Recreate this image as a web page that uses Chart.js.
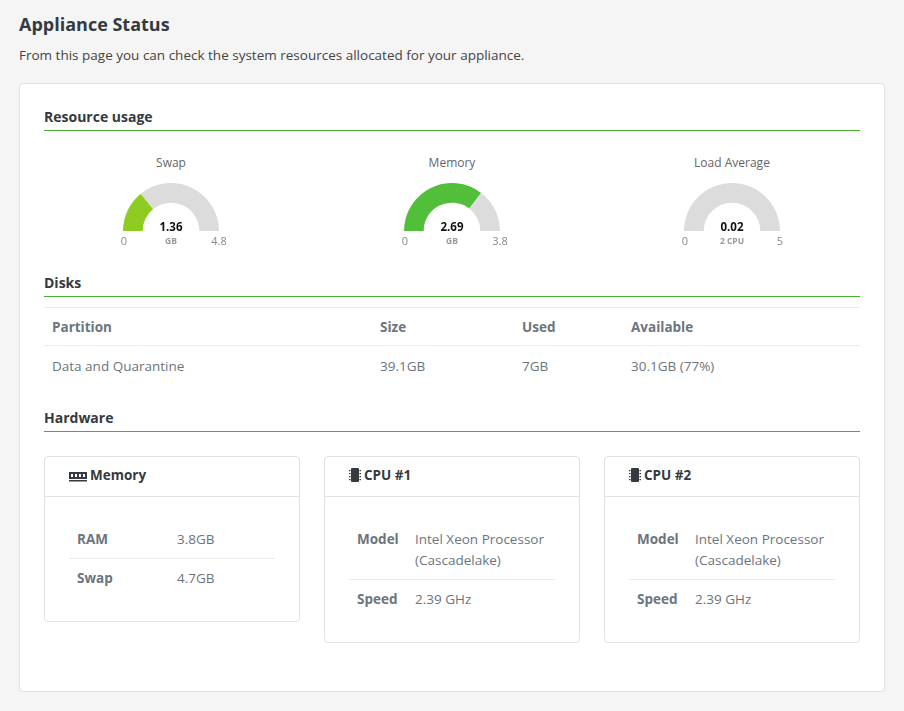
<!DOCTYPE html>
<html>
<head>
<meta charset="utf-8">
<script src="https://cdn.jsdelivr.net/npm/chart.js@4/dist/chart.umd.min.js"></script>
<style>
  html, body { margin: 0; padding: 0; }
  body { background: #f5f5f5; font-family: "Open Sans", sans-serif; font-size: 14px; color: #333; width: 904px; height: 711px; overflow: hidden; position: relative; }
  h1 { position: absolute; left: 19px; top: 12px; margin: 0; font-size: 18px; font-weight: 700; color: #343a40; }
  .lead { position: absolute; left: 19px; top: 46px; margin: 0; font-size: 13.5px; color: #444; }
  .card { position: absolute; left: 19px; top: 83px; width: 864px; height: 607px; background: #fff; border: 1px solid #dee2e6; border-radius: 4px; }
  .sect { position: absolute; left: 24px; width: 816px; border-bottom: 1.5px solid #49b02d; font-weight: 700; font-size: 14px; color: #343a40; height: 24px; line-height: 22px; }
  .gauge { position: absolute; width: 140px; height: 100px; }
  .gauge .t { position: absolute; top: 0; width: 140px; text-align: center; font-size: 12px; color: #666; }
  .gauge .cv { position: absolute; left: 22px; top: 29px; width: 96px; height: 48px; }
  .gauge .v { position: absolute; top: 65px; width: 140px; text-align: center; font-size: 11.5px; font-weight: 700; color: #111; }
  .gauge .u { position: absolute; top: 81px; width: 140px; text-align: center; font-size: 8.5px; font-weight: 700; color: #999; }
  .gauge .mn, .gauge .mx { position: absolute; top: 79px; width: 40px; text-align: center; font-size: 11px; color: #888; }
  table { border-collapse: collapse; }
  .disks { position: absolute; left: 24px; top: 223px; width: 816px; border-top: 1px solid #e9ecef; }
  .disks th, .disks td { text-align: left; padding: 0 8px; height: 39px; color: #6c757d; font-size: 13.5px; }
  .disks th { border-bottom: 1.5px solid #e9ecef; font-weight: 700; height: 37px; }
  .hw { position: absolute; top: 372px; width: 254px; background: #fff; border: 1px solid #dee2e6; border-radius: 4px; }
  .hw .hd { height: 39px; border-bottom: 1px solid #dee2e6; padding-left: 24px; font-weight: 700; font-size: 13.5px; line-height: 37px; color: #343a40; }
  .hw .hd svg { vertical-align: -2px; margin-right: 3px; }
  .hw table { margin: 24px 24px 24px 24px; width: 206px; }
  .hw td { padding: 0 8px; color: #6c757d; font-size: 13.5px; line-height: 21px; vertical-align: top; white-space: nowrap; }
  .hw td.k { font-weight: 700; }
  .hw tr.a td { padding-top: 8px; padding-bottom: 8px; border-bottom: 1px solid #e9ecef; }
  .hw tr.b td { padding-top: 8.5px; padding-bottom: 8.5px; }
</style>
</head>
<body>
<h1>Appliance Status</h1>
<p class="lead">From this page you can check the system resources allocated for your appliance.</p>

<div class="card">
  <div class="sect" style="top:22px">Resource usage</div>
  <div id="gauges"></div>

  <div class="sect" style="top:188px">Disks</div>
  <table class="disks">
    <tr><th style="width:312px">Partition</th><th style="width:126px">Size</th><th style="width:93px">Used</th><th>Available</th></tr>
    <tr><td>Data and Quarantine</td><td>39.1GB</td><td>7GB</td><td>30.1GB (77%)</td></tr>
  </table>

  <div class="sect" style="top:323px">Hardware</div>

  <div class="hw" style="left:24px">
    <div class="hd"><svg width="18" height="12" viewBox="0 0 18 12"><rect x="0" y="2" width="18" height="7" fill="#343a40"/><rect x="2" y="4" width="2" height="3" fill="#fff"/><rect x="6" y="4" width="2" height="3" fill="#fff"/><rect x="10" y="4" width="2" height="3" fill="#fff"/><rect x="14" y="4" width="2" height="3" fill="#fff"/><rect x="0" y="10" width="18" height="1.5" fill="#343a40"/></svg>Memory</div>
    <table>
      <tr class="a"><td class="k" style="width:84px">RAM</td><td>3.8GB</td></tr>
      <tr class="b"><td class="k">Swap</td><td>4.7GB</td></tr>
    </table>
  </div>

  <div class="hw" style="left:304px">
    <div class="hd"><svg width="12" height="14" viewBox="0 0 12 14"><rect x="2" y="0" width="8" height="14" rx="1" fill="#343a40"/><g fill="#343a40"><rect x="0" y="2" width="1.5" height="1.2"/><rect x="0" y="5" width="1.5" height="1.2"/><rect x="0" y="8" width="1.5" height="1.2"/><rect x="0" y="11" width="1.5" height="1.2"/><rect x="10.5" y="2" width="1.5" height="1.2"/><rect x="10.5" y="5" width="1.5" height="1.2"/><rect x="10.5" y="8" width="1.5" height="1.2"/><rect x="10.5" y="11" width="1.5" height="1.2"/></g></svg>CPU #1</div>
    <table>
      <tr class="a"><td class="k" style="width:42px">Model</td><td>Intel Xeon Processor<br>(Cascadelake)</td></tr>
      <tr class="b"><td class="k">Speed</td><td>2.39 GHz</td></tr>
    </table>
  </div>

  <div class="hw" style="left:584px">
    <div class="hd"><svg width="12" height="14" viewBox="0 0 12 14"><rect x="2" y="0" width="8" height="14" rx="1" fill="#343a40"/><g fill="#343a40"><rect x="0" y="2" width="1.5" height="1.2"/><rect x="0" y="5" width="1.5" height="1.2"/><rect x="0" y="8" width="1.5" height="1.2"/><rect x="0" y="11" width="1.5" height="1.2"/><rect x="10.5" y="2" width="1.5" height="1.2"/><rect x="10.5" y="5" width="1.5" height="1.2"/><rect x="10.5" y="8" width="1.5" height="1.2"/><rect x="10.5" y="11" width="1.5" height="1.2"/></g></svg>CPU #2</div>
    <table>
      <tr class="a"><td class="k" style="width:42px">Model</td><td>Intel Xeon Processor<br>(Cascadelake)</td></tr>
      <tr class="b"><td class="k">Speed</td><td>2.39 GHz</td></tr>
    </table>
  </div>
</div>

<script>
// gauge data
var gaugeTitles = ["Swap", "Memory", "Load Average"];
var gaugeValues = [1.36, 2.69, 0.02];
var gaugeMax = [4.8, 3.8, 5];
var gaugeMin = [0, 0, 0];
var gaugeUnits = ["GB", "GB", "2 CPU"];
var gaugeColors = ["#8fcc22", "#52bf3b", "#7cc56c"];
var gaugeCenters = [151, 432, 712];

var holder = document.getElementById("gauges");
for (var i = 0; i < gaugeTitles.length; i++) {
    var g = document.createElement("div");
    g.className = "gauge";
    g.style.left = (gaugeCenters[i] - 70) + "px";
    g.style.top = "70px";
    g.innerHTML = '<div class="t">' + gaugeTitles[i] + '</div>' +
        '<div class="cv"><canvas id="g' + i + '"></canvas></div>' +
        '<div class="v">' + gaugeValues[i] + '</div>' +
        '<div class="u">' + gaugeUnits[i] + '</div>' +
        '<div class="mn" style="left:3px">' + gaugeMin[i] + '</div>' +
        '<div class="mx" style="left:98px">' + gaugeMax[i] + '</div>';
    holder.appendChild(g);

    new Chart("g" + i, {
        type: "doughnut",
        data: {
            labels: ["used", "free"],
            datasets: [{
                data: [gaugeValues[i], gaugeMax[i] - gaugeValues[i]],
                backgroundColor: [gaugeColors[i], "#dcdcdc"],
                borderWidth: 0
            }]
        },
        options: {
            responsive: true,
            maintainAspectRatio: false,
            animation: false,
            rotation: -90,
            circumference: 180,
            cutout: "59%",
            layout: { padding: 0 },
            plugins: { legend: { display: false }, tooltip: { enabled: false } }
        }
    });
}
</script>
</body>
</html>
